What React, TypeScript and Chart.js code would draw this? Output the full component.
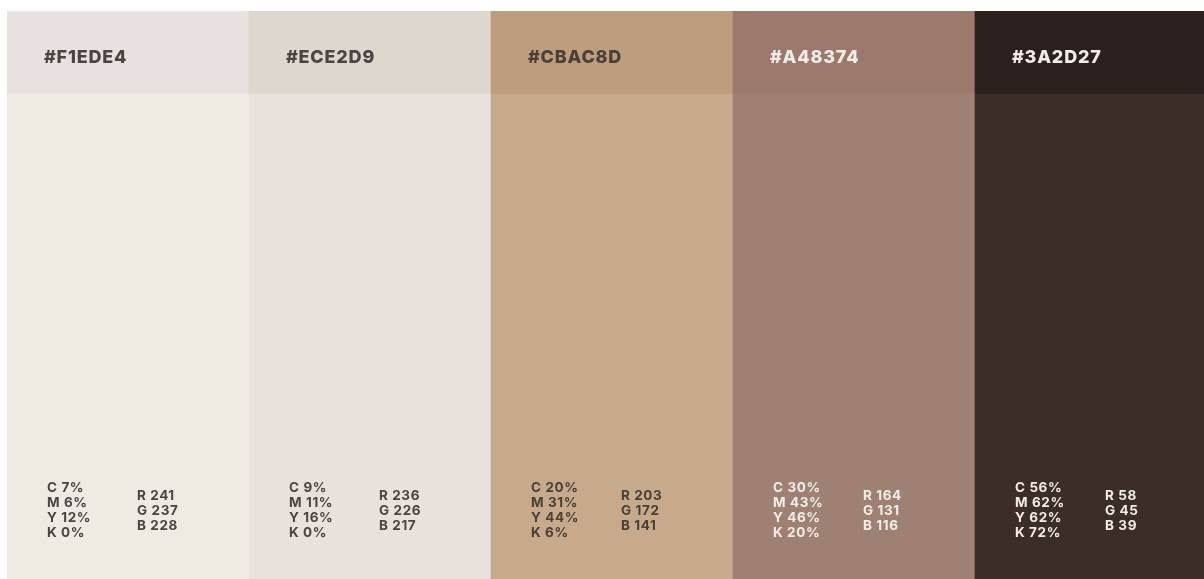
import React, { useEffect, useRef } from "react";
import { Chart, registerables } from "chart.js";

Chart.register(...registerables);

const hexLabels = ["#F1EDE4", "#ECE2D9", "#CBAC8D", "#A48374", "#3A2D27"];
const headerColors = ["#E9E1DF", "#DDD7CD", "#BD9D7E", "#9D786D", "#2B201D"];
const bodyColors = ["#EFEBE3", "#E9E1DC", "#C7AA8B", "#9F8174", "#3A2E26"];
const textColors = ["#4A4542", "#4A4542", "#4A4038", "#F3EDEA", "#F1ECE8"];
const cValues = [7, 9, 20, 30, 56];
const mValues = [6, 11, 31, 43, 62];
const yValues = [12, 16, 44, 46, 62];
const kValues = [0, 0, 6, 20, 72];
const rValues = [241, 236, 203, 164, 58];
const gValues = [237, 226, 172, 131, 45];
const bValues = [228, 217, 141, 116, 39];
const bodyHeight = [485, 485, 485, 485, 485];
const headerHeight = [83, 83, 83, 83, 83];

const FONT = "Inter, 'Liberation Sans', Arial, sans-serif";

const labelPlugin = {
  id: "paletteLabels",
  afterDatasetsDraw(chart: any) {
    const ctx = chart.ctx as CanvasRenderingContext2D;
    const y = chart.scales.y;
    const meta = chart.getDatasetMeta(0);
    ctx.save();
    hexLabels.forEach((hex, i) => {
      const bar: any = meta.data[i];
      const left = bar.x - bar.width / 2;
      const headerTop = y.getPixelForValue(bodyHeight[i] + headerHeight[i]);
      const headerBottom = y.getPixelForValue(bodyHeight[i]);
      ctx.fillStyle = textColors[i];
      ctx.textBaseline = "middle";
      ctx.textAlign = "left";
      (ctx as any).letterSpacing = "0.8px";
      ctx.font = `800 18px ${FONT}`;
      ctx.fillText(hex, left + 37, (headerTop + headerBottom) / 2 + 5);

      (ctx as any).letterSpacing = "0.6px";
      ctx.font = `700 13.5px ${FONT}`;
      const base = y.getPixelForValue(0) - 91;
      const cmyk = [
        `C ${cValues[i]}%`,
        `M ${mValues[i]}%`,
        `Y ${yValues[i]}%`,
        `K ${kValues[i]}%`,
      ];
      cmyk.forEach((t, j) => ctx.fillText(t, left + 40, base + j * 15));
      const rgb = [`R ${rValues[i]}`, `G ${gValues[i]}`, `B ${bValues[i]}`];
      rgb.forEach((t, j) => ctx.fillText(t, left + 130, base + 8 + j * 15));
    });
    ctx.restore();
  },
};

export default function App() {
  const ref = useRef<HTMLCanvasElement | null>(null);
  useEffect(() => {
    document.body.style.margin = "0";
    document.body.style.overflow = "hidden";
    const canvas = ref.current!;
    const chart = new Chart(canvas, {
      type: "bar",
      data: {
        labels: hexLabels,
        datasets: [
          {
            label: "body",
            data: bodyHeight,
            backgroundColor: bodyColors,
            borderWidth: 0,
            barPercentage: 1,
            categoryPercentage: 1,
          },
          {
            label: "header",
            data: headerHeight,
            backgroundColor: headerColors,
            borderWidth: 0,
            barPercentage: 1,
            categoryPercentage: 1,
          },
        ],
      },
      options: {
        responsive: false,
        animation: false,
        maintainAspectRatio: false,
        layout: { padding: 0 },
        plugins: {
          legend: { display: false },
          tooltip: { enabled: false },
        },
        scales: {
          x: { display: false, stacked: true, offset: true },
          y: { display: false, stacked: true, min: 0, max: 568 },
        },
      },
      plugins: [labelPlugin],
    });
    return () => chart.destroy();
  }, []);
  return (
    <div
      style={{
        position: "absolute",
        left: 7,
        top: 11,
        width: 1197,
        height: 568,
        overflow: "hidden",
        background: "#fff",
      }}
    >
      <canvas ref={ref} width={1210} height={568} style={{ display: "block", width: 1210, height: 568 }} />
    </div>
  );
}
